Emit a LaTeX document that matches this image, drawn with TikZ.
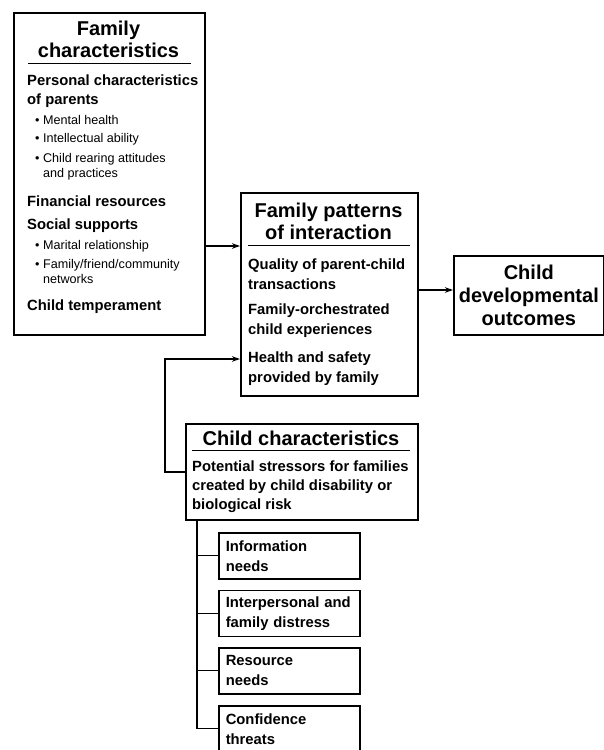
\documentclass[tikz,border=0pt]{standalone}
\usepackage{fontspec}
\setmainfont{Liberation Sans}
\usetikzlibrary{arrows.meta}

\newcommand{\headfont}{\fontsize{20}{22}\selectfont\bfseries}
\newcommand{\bodyfont}{\fontsize{14.8}{18.5}\selectfont\bfseries}
\newcommand{\itemfont}{\fontsize{12.6}{15}\selectfont}

\begin{document}
\begin{tikzpicture}[x=1pt,y=-1pt,>={Stealth[length=8pt,width=5.5pt]},
        box/.style={draw,line width=1.6pt,inner sep=0pt,anchor=north west},
        head/.style={font=\headfont,align=center,anchor=north,inner sep=0pt},
        body/.style={font=\bodyfont,align=left,anchor=north west,inner sep=0pt},
        bullets/.style={font=\itemfont,align=left,anchor=north west,inner sep=0pt},
        stressor/.style={draw,line width=1.5pt,anchor=north west,minimum width=141pt,
            minimum height=46pt,text width=127pt,inner xsep=7pt,align=left,
            font=\fontsize{14.8}{20}\selectfont\bfseries},
        rule/.style={line width=0.8pt},
        link/.style={line width=1.4pt}]
        \useasboundingbox (0,0) rectangle (604,750);

        % family characteristics
        \node[box,minimum width=191pt,minimum height=322pt] (famchar) at (13,12) {};
        \node[head] (famtitle) at (108.5,21) {Family\\characteristics};
        \draw[rule] (28,63) -- (191,63);
        \node[body] (parents) at (27,75) {Personal characteristics\\of parents};
        \node[bullets] (parentlist) at (35,115) {\textbullet\ Mental health\\[3pt]
            \textbullet\ Intellectual ability\\[5pt]
            \textbullet\ Child rearing attitudes\\ \hphantom{\textbullet\ }and practices};
        \node[body] (finance) at (27,196) {Financial resources};
        \node[body] (support) at (27,219) {Social supports};
        \node[bullets] (supportlist) at (35,240) {\textbullet\ Marital relationship\\[4pt]
            \textbullet\ Family/friend/community\\ \hphantom{\textbullet\ }networks};
        \node[body] (temper) at (27,300) {Child temperament};

        % family patterns of interaction
        \node[box,minimum width=177pt,minimum height=203pt] (patterns) at (240,192) {};
        \node[head] (pattitle) at (328.5,203) {Family patterns\\of interaction};
        \draw[rule] (248,245) -- (410,245);
        \node[body,font=\fontsize{14.8}{20}\selectfont\bfseries] (quality) at (248,259) {Quality of parent-child\\transactions};
        \node[body,font=\fontsize{14.8}{20}\selectfont\bfseries] (orchestr) at (248,304) {Family-orchestrated\\child experiences};
        \node[body,font=\fontsize{14.8}{20}\selectfont\bfseries] (health) at (248,352) {Health and safety\\provided by family};

        % child developmental outcomes
        \node[box,minimum width=150pt,minimum height=79pt,font=\fontsize{20}{23}\selectfont\bfseries,
            align=center] (outcomes) at (453,255) {Child\\developmental\\outcomes};

        % child characteristics
        \node[box,minimum width=232pt,minimum height=96pt] (childchar) at (185,423) {};
        \node[head] (childtitle) at (301,431) {Child characteristics};
        \draw[rule] (192,450) -- (410,450);
        \node[body,font=\fontsize{14.8}{19}\selectfont\bfseries] (stress) at (192,461)
            {Potential stressors for families\\created by child disability or\\biological risk};

        \node[stressor] (info) at (218,532) {Information\\needs};
        \node[stressor] (distress) at (218,589.5) {Interpersonal and\\family distress};
        \node[stressor] (resource) at (218,647) {Resource\\needs};
        \node[stressor] (confidence) at (218,705) {Confidence\\threats};

        % connectors
        \coordinate (famin) at (240,246);
        \coordinate (childin) at (240,359);
        \coordinate (spine) at (197,519);
        \draw[link,->] (famchar.east |- famin) -- (famin);
        \draw[link,->] (patterns.east |- 0,290) -- (outcomes.west |- 0,290);
        \draw[link,->] (childchar.west) -- ++(-20,0) |- (childin);
        \draw[link] (spine) |- (confidence.west);
        \foreach \s in {info,distress,resource}
            \draw[link] (spine |- \s.west) -- (\s.west);
\end{tikzpicture}
\end{document}
